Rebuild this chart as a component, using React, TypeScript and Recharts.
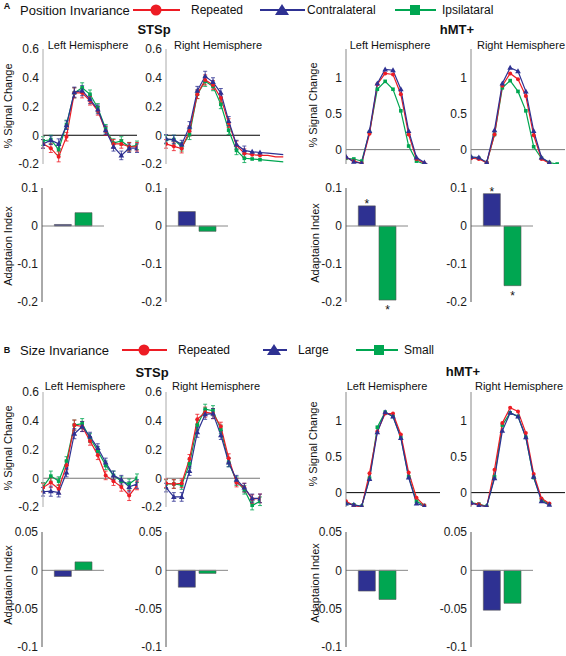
import React from "react";
import { LineChart, Line, BarChart, Bar, Cell, XAxis, YAxis, ReferenceLine, ErrorBar, LabelList } from "recharts";

const FONT = '"Liberation Sans", Arial, Helvetica, sans-serif';
const RED = "#ed1c24";
const BLUE = "#2e3192";
const GREEN = "#00a651";

// time points (TRs) shared by every time course
const timePoints = [1, 2, 3, 4, 5, 6, 7, 8, 9, 10, 11, 12, 13, 14, 15, 16];

// ---- A: position invariance ----
const aStsLeftRep = [-0.06, -0.09, -0.15, -0.01, 0.295, 0.295, 0.24, 0.17, 0.03, -0.06, -0.06, -0.08, -0.08];
const aStsLeftContra = [-0.06, -0.035, -0.06, 0.07, 0.3, 0.31, 0.25, 0.18, 0.035, -0.08, -0.14, -0.09, -0.09];
const aStsLeftIpsi = [-0.04, -0.03, -0.1, 0.075, 0.295, 0.33, 0.285, 0.19, 0.045, -0.055, -0.04, -0.08, -0.07];
const aStsLeftErr = [0.03, 0.03, 0.035, 0.03, 0.035, 0.035, 0.03, 0.03, 0.03, 0.03, 0.03, 0.03, 0.03];

const aStsRightRep = [-0.06, -0.077, -0.093, 0.03, 0.285, 0.385, 0.35, 0.26, 0.085, -0.07, -0.125, -0.135, -0.14, -0.14, -0.15, -0.15];
const aStsRightContra = [-0.025, -0.03, -0.065, 0.06, 0.31, 0.41, 0.37, 0.295, 0.1, -0.065, -0.105, -0.115, -0.12, -0.125, -0.13, -0.135];
const aStsRightIpsi = [-0.03, -0.03, -0.08, 0.005, 0.285, 0.375, 0.34, 0.215, 0.035, -0.105, -0.16, -0.165, -0.17, -0.175, -0.18, -0.185];
const aStsRightErr = [0.03, 0.03, 0.03, 0.035, 0.03, 0.035, 0.03, 0.03, 0.03, 0.03, 0.03];

const aMtLeftRep = [-0.11, -0.16, -0.19, 0.22, 0.91, 1.06, 1.045, 0.77, 0.21, -0.13, -0.19, -0.24];
const aMtLeftContra = [-0.1, -0.17, -0.19, 0.26, 0.92, 1.115, 1.105, 0.84, 0.26, -0.11, -0.18, -0.24];
const aMtLeftIpsi = [-0.12, -0.13, -0.16, 0.24, 0.84, 0.95, 0.84, 0.54, 0.05, -0.16, -0.2, -0.24];

const aMtRightRep = [-0.12, -0.13, -0.18, 0.21, 0.89, 1.06, 0.98, 0.745, 0.2, -0.13, -0.19];
const aMtRightContra = [-0.1, -0.11, -0.18, 0.27, 0.92, 1.14, 1.09, 0.81, 0.26, -0.11, -0.18];
const aMtRightIpsi = [-0.11, -0.12, -0.18, 0.21, 0.86, 0.96, 0.81, 0.54, 0.04, -0.12, -0.18, -0.2];

const aStsLeftIndex = [0.004, 0.035];
const aStsRightIndex = [0.038, -0.014];
const aMtLeftIndex = [0.053, -0.195];
const aMtRightIndex = [0.085, -0.157];
const aMtLeftSig = [true, true];
const aMtRightSig = [true, true];

// ---- B: size invariance ----
const bStsLeftRep = [-0.065, -0.03, -0.075, 0.09, 0.37, 0.36, 0.26, 0.16, 0.02, -0.02, -0.06, -0.12, -0.05];
const bStsLeftLarge = [-0.094, -0.09, -0.1, 0.04, 0.31, 0.36, 0.29, 0.21, 0.11, 0.02, -0.01, -0.06, -0.04];
const bStsLeftSmall = [-0.06, 0.015, -0.02, 0.12, 0.37, 0.38, 0.28, 0.19, 0.09, 0.02, -0.02, -0.04, 0.0];
const bStsLeftErr = [0.03, 0.035, 0.03, 0.03, 0.035, 0.035, 0.03, 0.03, 0.03, 0.03, 0.03, 0.035, 0.03];

const bStsRightRep = [-0.035, -0.04, -0.035, 0.135, 0.41, 0.46, 0.45, 0.36, 0.14, -0.03, -0.065, -0.145, -0.14];
const bStsRightLarge = [-0.065, -0.13, -0.13, 0.05, 0.32, 0.445, 0.45, 0.3, 0.11, -0.01, -0.065, -0.14, -0.14];
const bStsRightSmall = [-0.04, -0.04, -0.047, 0.1, 0.37, 0.48, 0.47, 0.34, 0.11, -0.02, -0.08, -0.19, -0.16];
const bStsRightErr = [0.03, 0.03, 0.03, 0.03, 0.035, 0.035, 0.035, 0.03, 0.03, 0.03, 0.03, 0.03, 0.03];

const bMtLeftRep = [-0.12, -0.18, -0.2, 0.27, 0.85, 1.1, 1.1, 0.81, 0.28, -0.07, -0.18];
const bMtLeftLarge = [-0.15, -0.17, -0.19, 0.19, 0.84, 1.12, 1.06, 0.76, 0.21, -0.15, -0.19];
const bMtLeftSmall = [-0.15, -0.17, -0.19, 0.2, 0.91, 1.12, 1.06, 0.77, 0.22, -0.12, -0.18];

const bMtRightRep = [-0.15, -0.16, -0.2, 0.32, 0.97, 1.18, 1.13, 0.83, 0.26, -0.08, -0.15];
const bMtRightLarge = [-0.14, -0.18, -0.19, 0.2, 0.86, 1.11, 1.06, 0.77, 0.22, -0.12, -0.17];
const bMtRightSmall = [-0.14, -0.16, -0.19, 0.22, 0.94, 1.11, 1.06, 0.77, 0.21, -0.1, -0.16];

const bStsLeftIndex = [-0.008, 0.011];
const bStsRightIndex = [-0.022, -0.004];
const bMtLeftIndex = [-0.027, -0.038];
const bMtRightIndex = [-0.052, -0.043];

const stsTicks = [-0.2, 0, 0.2, 0.4, 0.6];
const mtTicks = [0, 0.5, 1];
const aIndexTicks = [-0.2, -0.1, 0, 0.1];
const bIndexTicks = [-0.1, -0.05, 0, 0.05];

const WY = 34;
const MT = 6;
const LAST_MARKED = 13;

const tickStyle = { fontSize: 12, fill: "#1a1a1a", fontFamily: FONT };

const hideDot = (p: any) => p.cx == null || p.cy == null || (p.payload && p.payload.x > LAST_MARKED);

const circleDot = (color: string) => (p: any) => {
  const { cx, cy, index } = p;
  if (hideDot(p)) return <g key={`c${index}`} />;
  return <circle key={`c${index}`} cx={cx} cy={cy} r={2} fill={color} />;
};
const triDot = (color: string) => (p: any) => {
  const { cx, cy, index } = p;
  if (hideDot(p)) return <g key={`t${index}`} />;
  return <path key={`t${index}`} d={`M${cx},${cy - 3}L${cx + 2.8},${cy + 2}L${cx - 2.8},${cy + 2}Z`} fill={color} />;
};
const squareDot = (color: string) => (p: any) => {
  const { cx, cy, index } = p;
  if (hideDot(p)) return <g key={`s${index}`} />;
  return <rect key={`s${index}`} x={cx - 1.8} y={cy - 1.8} width={3.6} height={3.6} fill={color} />;
};

function Txt({ x, y, size = 11, bold = false, rotate = false, start = false, children }: any) {
  const tf = start ? "translate(0,-50%)" : "translate(-50%,-50%)" + (rotate ? " rotate(-90deg)" : "");
  return (
    <div
      style={{
        position: "absolute",
        left: x,
        top: y,
        transform: tf,
        whiteSpace: "nowrap",
        fontSize: size,
        fontWeight: bold ? "bold" : "normal",
        fontFamily: FONT,
        lineHeight: 1,
        color: "#111",
      }}
    >
      {children}
    </div>
  );
}

function LinePanel({ left, top, red, blue, green, err, xMax = 13, domain, ticks, zeroColor, axisColor }: any) {
  const w = (94 * (xMax - 1)) / 12;
  const h = 115;
  const n = Math.max(red.length, blue.length, green.length);
  const rows = timePoints.slice(0, n).map((x, i) => ({ x, r: red[i], b: blue[i], g: green[i], e: err ? err[i] : undefined }));
  const series = [
    { key: "g", color: GREEN, dot: squareDot(GREEN) },
    { key: "r", color: RED, dot: circleDot(RED) },
    { key: "b", color: BLUE, dot: triDot(BLUE) },
  ];
  return (
    <div style={{ position: "absolute", left: left - WY, top: top - MT }}>
      <LineChart width={WY + w + 4} height={h + 2 * MT} data={rows} margin={{ top: MT, right: 4, bottom: MT, left: 0 }}>
        <XAxis type="number" dataKey="x" domain={[1, xMax]} hide allowDataOverflow />
        <YAxis
          width={WY}
          type="number"
          domain={domain}
          ticks={ticks}
          interval={0}
          allowDataOverflow
          tickLine={false}
          tickSize={2}
          tickMargin={2}
          axisLine={{ stroke: axisColor, strokeWidth: 1 }}
          tick={tickStyle}
        />
        <ReferenceLine segment={[{ x: 1, y: 0 }, { x: 13, y: 0 }]} stroke={zeroColor} strokeWidth={1} ifOverflow="visible" />
        {series.map((s) => (
          <Line
            key={s.key}
            type="linear"
            dataKey={s.key}
            stroke={s.color}
            strokeWidth={1.2}
            dot={s.dot}
            activeDot={false}
            isAnimationActive={false}
          >
            {err && <ErrorBar dataKey="e" width={2} stroke={s.color} strokeWidth={0.8} direction="y" />}
          </Line>
        ))}
      </LineChart>
    </div>
  );
}

function BarPanel({ left, top, h = 115, vals, sig, domain, ticks }: any) {
  const w = 62;
  const MB = 22;
  const rows = vals.map((v: number, i: number) => ({ x: i + 1, v, s: sig ? sig[i] : false }));
  const star = (p: any) => {
    const { x, y, width, height, value, index } = p;
    if (!value) return null;
    const t = Math.min(y, y + height);
    const b = Math.max(y, y + height);
    const pos = rows[index].v >= 0;
    return (
      <text key={`st${index}`} x={x + width / 2} y={pos ? t + 2 : b + 14} textAnchor="middle" fontSize={12} fontFamily={FONT} fill="#111">
        *
      </text>
    );
  };
  return (
    <div style={{ position: "absolute", left: left - WY, top: top - MT }}>
      <BarChart width={WY + w + 4} height={h + MT + MB} data={rows} margin={{ top: MT, right: 4, bottom: MB, left: 0 }}>
        <XAxis type="number" dataKey="x" domain={[0, 3]} hide />
        <YAxis
          width={WY}
          type="number"
          domain={domain}
          ticks={ticks}
          interval={0}
          tickLine={false}
          tickSize={2}
          tickMargin={2}
          axisLine={{ stroke: "#555", strokeWidth: 1 }}
          tick={tickStyle}
        />
        <Bar dataKey="v" barSize={17} stroke="#555" strokeWidth={0.6} isAnimationActive={false}>
          {rows.map((_: any, i: number) => (
            <Cell key={i} fill={i === 0 ? BLUE : GREEN} />
          ))}
          {sig && <LabelList dataKey="s" content={star} />}
        </Bar>
        <ReferenceLine y={0} stroke="#888" strokeWidth={1} />
      </BarChart>
    </div>
  );
}

function LegendMarks() {
  const tri = (cx: number, cy: number) => `M${cx},${cy - 6}L${cx + 7},${cy + 5}L${cx - 7},${cy + 5}Z`;
  return (
    <svg width={566} height={656} style={{ position: "absolute", left: 0, top: 0, pointerEvents: "none" }}>
      <line x1={133} y1={10} x2={180} y2={10} stroke={RED} strokeWidth={2} />
      <circle cx={156} cy={10} r={5.5} fill={RED} />
      <line x1={260} y1={10} x2={305} y2={10} stroke={BLUE} strokeWidth={2} />
      <path d={tri(282, 10)} fill={BLUE} />
      <line x1={395} y1={10} x2={436} y2={10} stroke={GREEN} strokeWidth={2} />
      <rect x={410} y={5} width={10} height={10} fill={GREEN} />

      <line x1={122} y1={350} x2={167} y2={350} stroke={RED} strokeWidth={2} />
      <circle cx={144} cy={350} r={5.5} fill={RED} />
      <line x1={263} y1={350} x2={287} y2={350} stroke={BLUE} strokeWidth={2} />
      <path d={tri(274, 350)} fill={BLUE} />
      <line x1={356} y1={350} x2={398} y2={350} stroke={GREEN} strokeWidth={2} />
      <rect x={374} y={345} width={10} height={10} fill={GREEN} />
    </svg>
  );
}

export default function App() {
  return (
    <div style={{ position: "fixed", left: 0, top: 0, width: 566, height: 656, background: "#fff", overflow: "hidden" }}>
      {/* panel A */}
      <Txt x={7} y={6} size={9} bold>A</Txt>
      <Txt x={20} y={10} size={13} start>Position Invariance</Txt>
      <Txt x={191} y={10} size={12} start>Repeated</Txt>
      <Txt x={307} y={10} size={12} start>Contralateral</Txt>
      <Txt x={442} y={10} size={12} start>Ipsilataral</Txt>
      <Txt x={154} y={29} size={13} bold>STSp</Txt>
      <Txt x={457} y={29} size={13} bold>hMT+</Txt>
      <Txt x={88} y={45}>Left Hemisphere</Txt>
      <Txt x={218} y={45}>Right Hemisphere</Txt>
      <Txt x={390} y={45}>Left Hemisphere</Txt>
      <Txt x={521} y={45}>Right Hemisphere</Txt>
      <Txt x={8} y={106} rotate>% Signal Change</Txt>
      <Txt x={313} y={105} rotate>% Signal Change</Txt>
      <Txt x={8} y={246} rotate>Adaptaion Index</Txt>
      <Txt x={315} y={243} rotate>Adaptaion Index</Txt>

      <LinePanel left={43} top={49} red={aStsLeftRep} blue={aStsLeftContra} green={aStsLeftIpsi} err={aStsLeftErr} domain={[-0.2, 0.6]} ticks={stsTicks} zeroColor="#000" axisColor="#aaa" />
      <LinePanel left={166} top={49} xMax={16} red={aStsRightRep} blue={aStsRightContra} green={aStsRightIpsi} err={aStsRightErr} domain={[-0.2, 0.6]} ticks={stsTicks} zeroColor="#000" axisColor="#aaa" />
      <LinePanel left={346} top={49} red={aMtLeftRep} blue={aMtLeftContra} green={aMtLeftIpsi} domain={[-0.2, 1.4]} ticks={mtTicks} zeroColor="#777" axisColor="#888" />
      <LinePanel left={471} top={49} red={aMtRightRep} blue={aMtRightContra} green={aMtRightIpsi} domain={[-0.2, 1.4]} ticks={mtTicks} zeroColor="#777" axisColor="#888" />

      <BarPanel left={42} top={188} h={114} vals={aStsLeftIndex} domain={[-0.2, 0.1]} ticks={aIndexTicks} />
      <BarPanel left={166} top={188} h={114} vals={aStsRightIndex} domain={[-0.2, 0.1]} ticks={aIndexTicks} />
      <BarPanel left={346} top={188} h={114} vals={aMtLeftIndex} sig={aMtLeftSig} domain={[-0.2, 0.1]} ticks={aIndexTicks} />
      <BarPanel left={471} top={188} h={114} vals={aMtRightIndex} sig={aMtRightSig} domain={[-0.2, 0.1]} ticks={aIndexTicks} />

      {/* panel B */}
      <Txt x={7} y={350} size={9} bold>B</Txt>
      <Txt x={20} y={350} size={13} start>Size Invariance</Txt>
      <Txt x={178} y={350} size={12} start>Repeated</Txt>
      <Txt x={298} y={350} size={12} start>Large</Txt>
      <Txt x={404} y={350} size={12} start>Small</Txt>
      <Txt x={152} y={372} size={13} bold>STSp</Txt>
      <Txt x={463} y={371} size={13} bold>hMT+</Txt>
      <Txt x={85} y={386}>Left Hemisphere</Txt>
      <Txt x={216} y={386}>Right Hemisphere</Txt>
      <Txt x={387} y={386}>Left Hemisphere</Txt>
      <Txt x={519} y={386}>Right Hemisphere</Txt>
      <Txt x={8} y={448} rotate>% Signal Change</Txt>
      <Txt x={313} y={444} rotate>% Signal Change</Txt>
      <Txt x={8} y={585} rotate>Adaptaion Index</Txt>
      <Txt x={315} y={583} rotate>Adaptaion Index</Txt>

      <LinePanel left={43} top={391.5} red={bStsLeftRep} blue={bStsLeftLarge} green={bStsLeftSmall} err={bStsLeftErr} domain={[-0.2, 0.6]} ticks={stsTicks} zeroColor="#777" axisColor="#aaa" />
      <LinePanel left={166} top={391.5} red={bStsRightRep} blue={bStsRightLarge} green={bStsRightSmall} err={bStsRightErr} domain={[-0.2, 0.6]} ticks={stsTicks} zeroColor="#777" axisColor="#aaa" />
      <LinePanel left={346} top={391.5} red={bMtLeftRep} blue={bMtLeftLarge} green={bMtLeftSmall} domain={[-0.2, 1.4]} ticks={mtTicks} zeroColor="#000" axisColor="#888" />
      <LinePanel left={471} top={391.5} red={bMtRightRep} blue={bMtRightLarge} green={bMtRightSmall} domain={[-0.2, 1.4]} ticks={mtTicks} zeroColor="#000" axisColor="#888" />

      <BarPanel left={42} top={531.5} vals={bStsLeftIndex} domain={[-0.1, 0.05]} ticks={bIndexTicks} />
      <BarPanel left={166} top={531.5} vals={bStsRightIndex} domain={[-0.1, 0.05]} ticks={bIndexTicks} />
      <BarPanel left={346} top={531.5} vals={bMtLeftIndex} domain={[-0.1, 0.05]} ticks={bIndexTicks} />
      <BarPanel left={471} top={531.5} vals={bMtRightIndex} domain={[-0.1, 0.05]} ticks={bIndexTicks} />

      <LegendMarks />
    </div>
  );
}
